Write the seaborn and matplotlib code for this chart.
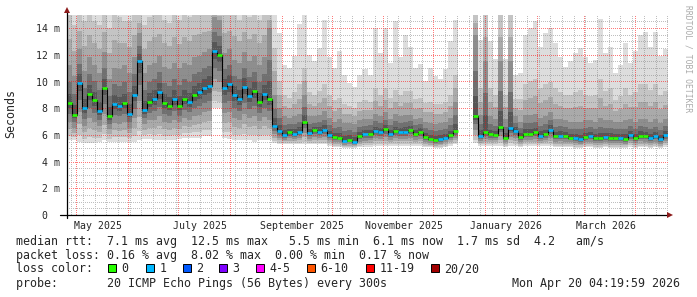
import numpy as np
import pandas as pd
import matplotlib
matplotlib.use("Agg")
import matplotlib.pyplot as plt
from matplotlib.lines import Line2D
from matplotlib.patches import Rectangle
import matplotlib.dates as mdates
import seaborn as sns

# ---------------- data ----------------
start_time = "2025-04-25 04:19:59"
bin_days = 3
nan = float("nan")

median_ms = [
    8.4, 7.5, 9.9, 8.0, 9.1, 8.6, 7.8, 9.5, 7.4, 8.3,
    8.2, 8.4, 7.6, 9.0, 11.5, 7.9, 8.5, 8.7, 9.2, 8.4,
    8.2, 8.7, 8.2, 8.7, 8.5, 9.0, 9.2, 9.5, 9.7, 12.3,
    12.0, 9.5, 9.8, 9.0, 8.7, 9.6, 8.9, 9.3, 8.5, 9.1,
    8.7, 6.7, 6.3, 6.0, 6.2, 6.1, 6.25, 7.0, 6.15, 6.35,
    6.25, 6.35, 6.0, 5.85, 5.8, 5.55, 5.65, 5.5, 5.9, 6.05,
    6.1, 6.3, 6.25, 6.45, 6.1, 6.3, 6.25, 6.25, 6.4, 6.1,
    6.25, 5.85, 5.7, 5.6, 5.7, 5.8, 6.0, 6.3, nan, nan,
    nan, 7.4, 5.95, 6.2, 6.05, 6.0, 6.6, 5.8, 6.5, 6.3,
    5.85, 6.1, 6.1, 6.2, 5.95, 6.05, 6.4, 5.9, 5.95, 5.9,
    5.8, 5.75, 5.7, 5.85, 5.9, 5.74, 5.74, 5.85, 5.8, 5.8,
    5.75, 5.7, 6.0, 5.8, 5.95, 5.9, 5.8, 5.9, 5.68, 6.0,
]

loss_count = [
    0, 0, 1, 1, 0, 0, 1, 0, 0, 1,
    1, 0, 1, 1, 1, 1, 0, 1, 1, 0,
    0, 1, 0, 0, 1, 0, 1, 1, 1, 1,
    0, 1, 1, 1, 1, 1, 1, 0, 0, 1,
    0, 1, 1, 1, 0, 1, 1, 0, 1, 0,
    1, 1, 1, 0, 0, 1, 0, 1, 0, 1,
    0, 1, 1, 0, 1, 0, 1, 1, 0, 0,
    0, 0, 0, 0, 1, 1, 0, 0, 0, 0,
    0, 0, 1, 0, 0, 0, 0, 0, 1, 1,
    0, 0, 0, 0, 1, 0, 1, 0, 1, 0,
    0, 1, 1, 0, 1, 0, 0, 1, 0, 0,
    1, 0, 1, 0, 0, 0, 1, 1, 1, 1,
]

smoke_low_ms = [
    5.6, 5.6, 5.5, 5.4, 5.4, 5.4, 5.5, 5.6, 5.5, 5.5,
    5.5, 5.5, 5.5, 5.5, 5.6, 5.7, 5.7, 5.6, 5.6, 5.6,
    5.6, 5.6, 5.7, 5.8, 5.8, 5.8, 5.8, 5.9, 5.9, 8.0,
    8.0, 5.8, 5.7, 5.6, 5.6, 5.6, 5.6, 5.5, 5.6, 5.6,
    5.6, 5.4, 5.3, 5.3, 5.3, 5.3, 5.3, 5.3, 5.3, 5.3,
    5.3, 5.3, 5.2, 5.1, 5.1, 5.0, 5.0, 5.0, 5.1, 5.1,
    5.1, 5.2, 5.2, 5.2, 5.2, 5.2, 5.2, 5.2, 5.2, 5.2,
    5.2, 5.1, 5.1, 5.0, 5.0, 5.1, 5.2, 5.3, nan, nan,
    nan, 5.4, 5.2, 5.2, 5.2, 5.2, 5.2, 5.1, 5.2, 5.2,
    5.1, 5.2, 5.2, 5.2, 5.2, 5.2, 5.2, 5.1, 5.1, 5.1,
    5.1, 5.0, 5.0, 5.1, 5.1, 5.0, 5.0, 5.1, 5.0, 5.0,
    5.0, 5.0, 5.1, 5.0, 5.1, 5.1, 5.0, 5.1, 5.0, 5.1,
]

smoke_dark_top_ms = [
    11.2, 10.4, 12.4, 10.8, 11.8, 11.2, 10.6, 12.2, 10.2, 11.0,
    10.9, 11.2, 10.6, 11.8, 13.6, 10.6, 11.2, 11.4, 11.9, 11.1,
    10.9, 11.4, 11.0, 11.4, 11.2, 11.8, 11.9, 12.2, 12.4, 14.8,
    14.6, 12.1, 12.4, 11.6, 11.4, 12.2, 11.5, 11.9, 11.2, 11.8,
    14.0, 9.0, 8.0, 7.4, 7.3, 7.4, 7.6, 9.0, 7.4, 7.4,
    7.5, 7.8, 7.3, 7.0, 7.2, 6.9, 6.9, 6.8, 7.1, 7.2,
    7.2, 7.6, 7.4, 7.7, 7.2, 7.6, 7.4, 7.5, 7.5, 7.2,
    7.3, 7.0, 6.9, 6.8, 6.9, 7.0, 7.3, 8.5, nan, nan,
    nan, 13.5, 7.5, 11.5, 7.4, 7.2, 11.5, 7.2, 11.5, 7.4,
    7.0, 7.5, 7.5, 7.6, 7.3, 7.4, 7.7, 7.2, 7.2, 7.1,
    7.0, 7.0, 7.0, 7.1, 7.1, 7.0, 7.3, 7.1, 7.1, 7.0,
    7.0, 7.1, 7.2, 7.0, 7.2, 7.2, 7.0, 7.2, 6.9, 7.2,
]

smoke_mid_top_ms = [
    15.2, 14.2, 15.2, 14.5, 15.2, 14.5, 14.2, 15.2, 14.0, 15.2,
    14.8, 14.5, 14.5, 15.2, 15.2, 14.2, 14.8, 15.2, 15.2, 14.6,
    14.4, 15.2, 14.6, 15.2, 14.8, 15.2, 15.2, 15.2, 15.2, 15.2,
    15.2, 15.2, 15.2, 15.2, 14.6, 15.2, 14.8, 15.2, 14.6, 15.2,
    15.2, 12.5, 10.0, 9.0, 8.8, 9.2, 9.8, 11.0, 9.2, 9.0,
    9.3, 9.8, 9.0, 8.6, 8.8, 8.3, 8.2, 8.0, 8.5, 8.6,
    8.5, 9.5, 9.0, 9.5, 8.8, 9.4, 9.0, 9.3, 9.3, 8.7,
    8.8, 8.4, 8.5, 8.3, 8.3, 8.5, 9.0, 10.5, nan, nan,
    nan, 15.2, 9.5, 15.2, 9.5, 9.0, 15.2, 9.0, 15.2, 8.7,
    8.7, 9.8, 10.0, 10.2, 9.5, 9.8, 10.0, 9.5, 9.2, 9.0,
    9.0, 9.2, 9.4, 9.0, 8.9, 9.0, 10.2, 9.3, 9.5, 8.6,
    8.9, 9.5, 9.0, 9.2, 9.8, 9.8, 9.4, 9.8, 9.0, 9.3,
]

smoke_high_ms = [
    15.2, 15.2, 15.2, 15.2, 15.2, 15.2, 15.2, 15.2, 15.2, 15.2,
    15.2, 15.2, 15.2, 15.2, 15.2, 15.2, 15.2, 15.2, 15.2, 15.2,
    15.2, 15.2, 15.2, 15.2, 15.2, 15.2, 15.2, 15.2, 15.2, 15.2,
    15.2, 15.2, 15.2, 15.2, 15.2, 15.2, 15.2, 15.2, 15.2, 15.2,
    15.2, 15.2, 13.6, 11.2, 11.0, 11.9, 14.3, 15.2, 12.0, 11.5,
    12.5, 14.6, 11.8, 11.0, 12.3, 10.5, 9.9, 9.6, 10.5, 10.9,
    10.5, 14.0, 12.1, 14.0, 11.4, 14.5, 11.8, 13.5, 12.6, 11.0,
    11.3, 10.0, 11.0, 10.4, 10.2, 10.9, 13.0, 14.6, nan, nan,
    nan, 15.2, 13.1, 15.2, 13.0, 11.7, 15.2, 11.7, 15.2, 10.5,
    10.6, 13.5, 14.0, 14.5, 12.6, 13.6, 14.0, 12.9, 11.8, 11.1,
    11.5, 12.1, 12.5, 11.8, 11.4, 11.6, 14.7, 12.1, 12.6, 10.6,
    11.2, 12.9, 11.4, 12.3, 13.5, 13.7, 12.6, 13.7, 11.9, 12.4,
]

x_label_texts = ["May 2025", "July 2025", "September 2025",
                 "November 2025", "January 2026", "March 2026"]
x_label_dates = ["2025-05-14", "2025-07-14", "2025-09-13",
                 "2025-11-13", "2026-01-13", "2026-03-14"]
y_tick_values = [0, 2, 4, 6, 8, 10, 12, 14]
y_tick_texts = ["0  ", "2 m", "4 m", "6 m", "8 m", "10 m", "12 m", "14 m"]

loss_legend_labels = ["0", "1", "2", "3", "4-5", "6-10", "11-19", "20/20"]
loss_legend_colors = ["#26ff00", "#00b8ff", "#0059ff", "#7e00ff",
                      "#ff00fe", "#ff5500", "#ff0000", "#a10000"]

line_rtt = "median rtt:  7.1 ms avg  12.5 ms max   5.5 ms min  6.1 ms now  1.7 ms sd  4.2   am/s"
line_loss = "packet loss: 0.16 % avg  8.02 % max  0.00 % min  0.17 % now"
line_probe = "probe:       20 ICMP Echo Pings (56 Bytes) every 300s"
stamp = "Mon Apr 20 04:19:59 2026"

# ---------------- figure ----------------
sns.set_style("white")
plt.rcParams["font.family"] = ["DejaVu Sans Mono", "DejaVu Sans"]

W, H = 697, 297
PX, PY, PW, PH = 67, 82, 601, 200      # plot area in pixels (left, bottom, w, h)
fig = plt.figure(figsize=(W / 100, H / 100), dpi=100)
fig.patch.set_facecolor("white")
rect = [PX / W, PY / H, PW / W, PH / H]
ax = fig.add_axes(rect, zorder=0)
ax.set_facecolor("white")

t0 = pd.Timestamp(start_time)
n = len(median_ms)
edges = mdates.date2num(pd.DatetimeIndex([t0 + pd.Timedelta(days=bin_days * k) for k in range(n + 1)]))
ymax = 200 / 13.35
x0, x1 = edges[0], edges[-1]
ax.set_xlim(x0, x1)
ax.set_ylim(0, ymax)

med = np.array(median_ms, float)
lo = np.array(smoke_low_ms, float)
dk = np.array(smoke_dark_top_ms, float)
md = np.array(smoke_mid_top_ms, float)
hi = np.array(smoke_high_ms, float)

# smoke shading: outer (light) to inner (dark) bands between the read levels
layers = [
    (lo, hi, "#dddddd"),
    (lo + 0.12 * (med - lo), md, "#c4c4c4"),
    (lo + 0.30 * (med - lo), 0.5 * (dk + md), "#aaaaaa"),
    (lo + 0.50 * (med - lo), dk, "#8e8e8e"),
    (lo + 0.70 * (med - lo), med + 0.55 * (dk - med), "#707070"),
    (lo + 0.86 * (med - lo), med + 0.25 * (dk - med), "#565656"),
]
for bot, top, col in layers:
    ax.bar(edges[:-1], top - bot, width=bin_days, bottom=bot, align="edge",
           color=col, linewidth=0, antialiased=False, zorder=1)

# pixel-exact dotted grid overlay (1 px on / 1 px off, like rrdtool)
grid = np.zeros((PH, PW, 4))
minor_rgba = (0.50, 0.50, 0.50, 0.50)
major_rgba = (1.00, 0.05, 0.05, 0.55)

def vline(xnum, rgba):
    c = int((xnum - x0) / (x1 - x0) * PW)
    if 0 <= c < PW:
        grid[1::2, c] = rgba

def hline(yv, rgba):
    r = int(round(PH - yv / ymax * PH))
    if 0 <= r < PH:
        grid[r, 0::2] = rgba

for w in pd.date_range(t0.normalize(), t0 + pd.Timedelta(days=360), freq="W-MON"):
    vline(mdates.date2num(w), minor_rgba)
for yv in np.arange(0.5, 15, 0.5):
    if yv % 2:
        hline(yv, minor_rgba)
for m in pd.date_range("2025-05-01", "2026-04-01", freq="MS"):
    vline(mdates.date2num(m), major_rgba)
for yv in y_tick_values[1:]:
    hline(yv, major_rgba)
fig.figimage(grid, xo=PX, yo=PY, origin="upper", zorder=1)

# median on a transparent overlay axes (above the grid)
ax2 = fig.add_axes(rect, zorder=2)
ax2.patch.set_visible(False)
ax2.set_xlim(x0, x1)
ax2.set_ylim(0, ymax)
ax2.axis("off")
seg = np.cumsum(np.isnan(med))
df = pd.DataFrame({"t": edges[:-1], "median": med, "seg": seg}).dropna()
sns.lineplot(data=df, x="t", y="median", units="seg", estimator=None,
             drawstyle="steps-post", color="black", lw=0.8, ax=ax2, zorder=3,
             legend=False)
for i in range(n):
    if np.isnan(med[i]):
        continue
    ax2.hlines(med[i], edges[i], edges[i + 1], colors=loss_legend_colors[loss_count[i]],
               lw=1.9, zorder=4, capstyle="butt")
ax2.set_xlim(x0, x1)
ax2.set_ylim(0, ymax)

# axes styling
for s in ax.spines.values():
    s.set_visible(False)
ax.set_xlabel("")
ax.set_ylabel("")
ax.set_yticks(y_tick_values)
ax.set_yticklabels(y_tick_texts, fontsize=7.1)
ax.set_xticks(mdates.date2num(pd.DatetimeIndex(x_label_dates)))
ax.set_xticklabels(x_label_texts, fontsize=7.1)
ax.tick_params(axis="y", length=0, pad=5)
ax.tick_params(axis="x", length=0, pad=4)

# axis lines and arrows
arrow_col = "#8c1a1a"
fig.add_artist(Line2D([60 / W, 668 / W], [1 - 215 / H, 1 - 215 / H], color="black", lw=0.9, zorder=5))
fig.add_artist(Line2D([67 / W, 67 / W], [1 - 218 / H, 1 - 11 / H], color="black", lw=0.9, zorder=5))
fig.add_artist(Line2D([67 / W], [1 - 10 / H], marker="^", color=arrow_col, ms=4, mew=0, zorder=5))
fig.add_artist(Line2D([670 / W], [1 - 215 / H], marker=">", color=arrow_col, ms=4, mew=0, zorder=5))

# texts
fig.text(11 / W, 1 - 114 / H, "Seconds", rotation=90, ha="center", va="center", fontsize=8.4)
fig.text(688 / W, 1 - 5 / H, "RRDTOOL / TOBI OETIKER", rotation=270, ha="center", va="top",
         fontsize=5.8, color="#aaaaaa")

def ptext(x, y, s, **kw):
    fig.text(x / W, 1 - y / H, s, va="center", fontsize=8.4, **kw)

ptext(16, 241, line_rtt)
ptext(16, 255.5, line_loss)
ptext(16, 269, "loss color:")
box_x = [108, 146, 183, 219, 256, 307, 366, 431]
for bx, lab, col in zip(box_x, loss_legend_labels, loss_legend_colors):
    fig.add_artist(Rectangle((bx / W, 1 - 272 / H), 8 / W, 8 / H, transform=fig.transFigure,
                             facecolor=col, edgecolor="black", lw=0.7, zorder=5))
    ptext(bx + 13.5, 269, lab)
ptext(16, 283.5, line_probe)
ptext(680, 283.5, stamp, ha="right")

fig.savefig("out.png", dpi=100)
